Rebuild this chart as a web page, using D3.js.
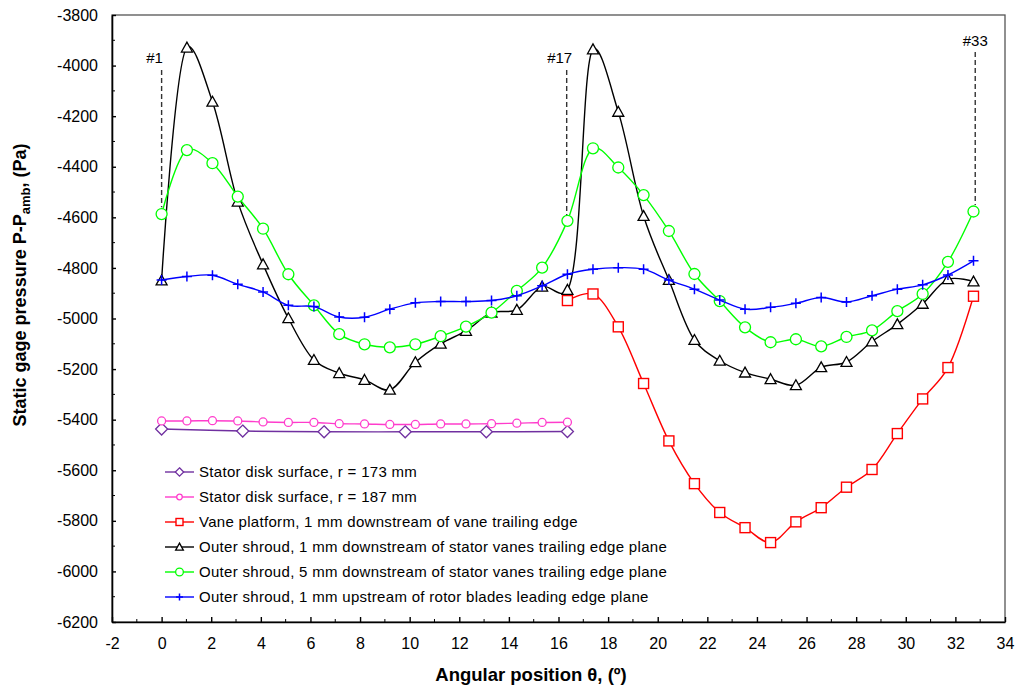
<!DOCTYPE html>
<html>
<head>
<meta charset="utf-8">
<script src="https://cdn.jsdelivr.net/npm/d3@7"></script>
<style>
	body { margin: 0; background: #fff; }
	svg text { font-family: "Liberation Sans", Arial, sans-serif; fill: #000; }
</style>
</head>
<body>
<div id="chart"></div>
<script>
	"use strict";

	// angular positions of the 33 taps (#1 .. #33)
	var theta = [0, 1.02, 2.05, 3.07, 4.09, 5.11, 6.14, 7.16, 8.18, 9.20, 10.23, 11.25, 12.27, 13.30, 14.32, 15.34, 16.36,
		17.39, 18.41, 19.43, 20.45, 21.48, 22.50, 23.52, 24.55, 25.57, 26.59, 27.61, 28.64, 29.66, 30.68, 31.70, 32.73];
	var thetaDisk173 = [0, 3.27, 6.55, 9.82, 13.09, 16.36];

	var disk173 = [-5437, -5445, -5448, -5448, -5448, -5447];
	var disk187 = [-5405, -5405, -5404, -5405, -5409, -5411, -5411, -5416, -5417, -5419, -5419, -5417, -5417, -5416, -5414, -5411, -5410];
	var vanePlatform = [-4929, -4903, -5033, -5257, -5484, -5653, -5767, -5827, -5886, -5804, -5748, -5667, -5597, -5455, -5318, -5194, -4912];
	var shroud1Down = [-4850, -3929, -4143, -4538, -4786, -4999, -5164, -5216, -5243, -5282, -5173, -5100, -5049, -4977, -4966, -4874, -4887,
		-3936, -4183, -4595, -4848, -5085, -5167, -5214, -5240, -5264, -5193, -5172, -5091, -5023, -4942, -4845, -4854];
	var shroud5Down = [-4587, -4334, -4386, -4518, -4645, -4825, -4948, -5062, -5102, -5114, -5102, -5070, -5032, -4977, -4891, -4799, -4614,
		-4327, -4403, -4512, -4654, -4824, -4931, -5035, -5094, -5082, -5110, -5073, -5047, -4971, -4903, -4776, -4577];
	var shroud1Up = [-4848, -4834, -4829, -4865, -4895, -4948, -4953, -4994, -4995, -4963, -4938, -4933, -4933, -4929, -4910, -4871, -4825,
		-4805, -4799, -4805, -4848, -4884, -4927, -4963, -4956, -4940, -4917, -4935, -4910, -4884, -4867, -4828, -4772];

	var seriesNames = [
		"Stator disk surface, r = 173 mm",
		"Stator disk surface, r = 187 mm",
		"Vane platform, 1 mm downstream of vane trailing edge",
		"Outer shroud, 1 mm downstream of stator vanes trailing edge plane",
		"Outer shroud, 5 mm downstream of stator vanes trailing edge plane",
		"Outer shroud, 1 mm upstream of rotor blades leading edge plane"
	];

	var xTicks = d3.range(-2, 35, 2);
	var yTicks = d3.range(-6200, -3799, 200);

	// probe annotations: label, angle, top and bottom of the dashed marker (Pa)
	var probeMarks = [
		{ label: "#1", x: 0, top: -4017, bottom: -4560, labelY: -3990 },
		{ label: "#17", x: 16.33, top: -4017, bottom: -4600, labelY: -3990 },
		{ label: "#33", x: 32.8, top: -3946, bottom: -4551, labelY: -3922 }
	];

	// build series table used by the drawing code
	var series = [
		{ name: seriesNames[0], xs: thetaDisk173, ys: disk173, color: "#7030a0", symbol: "diamond" },
		{ name: seriesNames[1], xs: theta.slice(0, 17), ys: disk187, color: "#ff3ccc", symbol: "smallcircle" },
		{ name: seriesNames[2], xs: theta.slice(16), ys: vanePlatform, color: "#ff0000", symbol: "square" },
		{ name: seriesNames[3], xs: theta, ys: shroud1Down, color: "#000000", symbol: "triangle" },
		{ name: seriesNames[4], xs: theta, ys: shroud5Down, color: "#00ff00", symbol: "circle" },
		{ name: seriesNames[5], xs: theta, ys: shroud1Up, color: "#0000ff", symbol: "plus" }
	];

	var width = 1018, height = 689;
	var plot = { left: 112, right: 1005, top: 15, bottom: 622 };

	var svg = d3.select("#chart").append("svg")
		.attr("width", width)
		.attr("height", height);

	var x = d3.scaleLinear().domain([-2, 34]).range([plot.left, plot.right]);
	var y = d3.scaleLinear().domain([-6200, -3800]).range([plot.bottom, plot.top]);

	// plot frame (top and right)
	svg.append("rect")
		.attr("x", plot.left)
		.attr("y", plot.top)
		.attr("width", plot.right - plot.left)
		.attr("height", plot.bottom - plot.top)
		.attr("fill", "none")
		.attr("stroke", "#555")
		.attr("stroke-width", 1.3);

	// ****************** Axes ***************************
	var plainNumber = function(d) { return String(d); };

	var xAxis = svg.append("g")
		.attr("transform", "translate(0," + plot.bottom + ")")
		.call(d3.axisBottom(x).tickValues(xTicks).tickFormat(plainNumber).tickSizeInner(-5).tickSizeOuter(0));
	xAxis.append("g").selectAll("line")
		.data(d3.range(-1, 34, 2))
		.enter().append("line")
		.attr("x1", function(d) { return x(d); })
		.attr("x2", function(d) { return x(d); })
		.attr("y1", 0)
		.attr("y2", -3)
		.attr("stroke", "#000");

	var yAxis = svg.append("g")
		.attr("transform", "translate(" + plot.left + ",0)")
		.call(d3.axisLeft(y).tickValues(yTicks).tickFormat(plainNumber).tickSizeInner(-4).tickSizeOuter(0));
	yAxis.append("g").selectAll("line")
		.data(d3.range(-6100, -3800, 200))
		.enter().append("line")
		.attr("y1", function(d) { return y(d); })
		.attr("y2", function(d) { return y(d); })
		.attr("x1", 0)
		.attr("x2", 3)
		.attr("stroke", "#000");

	[xAxis, yAxis].forEach(function(g) {
		g.select(".domain").attr("stroke", "#000").attr("stroke-width", 1.6);
		g.selectAll(".tick line").attr("stroke", "#000").attr("stroke-width", 1.4);
		g.selectAll(".tick text")
			.style("font-family", "'Liberation Sans', Arial, sans-serif")
			.style("font-size", "16px")
			.attr("fill", "#000");
	});
	xAxis.selectAll(".tick text").attr("dy", "0.35em").attr("y", 21);
	yAxis.selectAll(".tick text").attr("x", -14);

	// axis titles
	svg.append("text")
		.attr("x", 531)
		.attr("y", 681)
		.attr("text-anchor", "middle")
		.style("font-size", "18.5px")
		.style("font-weight", "bold")
		.text("Angular position \u03b8, (\u00ba)");

	var yTitle = svg.append("text")
		.attr("transform", "translate(26,285) rotate(-90)")
		.attr("text-anchor", "middle")
		.style("font-size", "18px")
		.style("font-weight", "bold");
	yTitle.append("tspan").text("Static gage pressure P-P");
	yTitle.append("tspan").attr("dy", 4).style("font-size", "13px").text("amb");
	yTitle.append("tspan").attr("dy", -4).text(", (Pa)");

	// ****************** Probe annotations ***************************
	var marks = svg.append("g");
	marks.selectAll("line")
		.data(probeMarks)
		.enter().append("line")
		.attr("x1", function(d) { return x(d.x); })
		.attr("x2", function(d) { return x(d.x); })
		.attr("y1", function(d) { return y(d.top); })
		.attr("y2", function(d) { return y(d.bottom); })
		.attr("stroke", "#333")
		.attr("stroke-width", 1.4)
		.attr("stroke-dasharray", "5,3");
	marks.selectAll("text")
		.data(probeMarks)
		.enter().append("text")
		.attr("x", function(d) { return x(d.x) - (d.label === "#33" ? 0 : 7); })
		.attr("y", function(d) { return y(d.labelY); })
		.attr("text-anchor", "middle")
		.style("font-size", "15px")
		.text(function(d) { return d.label; });

	// ****************** Symbols ***************************
	function drawSymbol(g, symbol, color, cx, cy, scale) {
		var s = scale || 1;
		if (symbol === "diamond") {
			var r = 6 * s;
			g.append("path")
				.attr("d", "M" + cx + "," + (cy - r) + "L" + (cx + r) + "," + cy + "L" + cx + "," + (cy + r) + "L" + (cx - r) + "," + cy + "Z")
				.attr("fill", "#fff").attr("stroke", color).attr("stroke-width", 1.3);
		} else if (symbol === "smallcircle") {
			g.append("circle").attr("cx", cx).attr("cy", cy).attr("r", 4 * s)
				.attr("fill", "#fff").attr("stroke", color).attr("stroke-width", 1.3);
		} else if (symbol === "circle") {
			g.append("circle").attr("cx", cx).attr("cy", cy).attr("r", 5.5 * s)
				.attr("fill", "#fff").attr("stroke", color).attr("stroke-width", 1.3);
		} else if (symbol === "square") {
			var h = 5 * s;
			g.append("rect").attr("x", cx - h).attr("y", cy - h).attr("width", 2 * h).attr("height", 2 * h)
				.attr("fill", "#fff").attr("stroke", color).attr("stroke-width", 1.4);
		} else if (symbol === "triangle") {
			var t = 5.5 * s;
			g.append("path")
				.attr("d", "M" + cx + "," + (cy - t) + "L" + (cx + t) + "," + (cy + t * 0.8) + "L" + (cx - t) + "," + (cy + t * 0.8) + "Z")
				.attr("fill", "#fff").attr("stroke", color).attr("stroke-width", 1.3);
		} else if (symbol === "plus") {
			var p = 5 * s;
			g.append("path")
				.attr("d", "M" + (cx - p) + "," + cy + "H" + (cx + p) + "M" + cx + "," + (cy - p) + "V" + (cy + p))
				.attr("stroke", color).attr("stroke-width", 1.5);
		}
	}

	// ****************** Series ***************************
	var line = d3.line()
		.x(function(d) { return x(d[0]); })
		.y(function(d) { return y(d[1]); })
		.curve(d3.curveCatmullRom.alpha(0.35));

	series.forEach(function(s) {
		var pts = s.xs.map(function(v, i) { return [v, s.ys[i]]; });
		var g = svg.append("g");
		g.append("path")
			.datum(pts)
			.attr("d", line)
			.attr("fill", "none")
			.attr("stroke", s.color)
			.attr("stroke-width", 1.4);
		pts.forEach(function(p) {
			drawSymbol(g, s.symbol, s.color, x(p[0]), y(p[1]));
		});
	});

	// ****************** Legend ***************************
	var legend = svg.append("g").attr("transform", "translate(165,472)");
	series.forEach(function(s, i) {
		var row = legend.append("g").attr("transform", "translate(0," + (i * 25) + ")");
		row.append("line")
			.attr("x1", 0).attr("x2", 29)
			.attr("stroke", s.color)
			.attr("stroke-width", 1.4);
		drawSymbol(row, s.symbol, s.color, 14.5, 0, 0.7);
		row.append("text")
			.attr("x", 34)
			.attr("dy", "0.35em")
			.style("font-size", "15px")
			.style("letter-spacing", "0.3px")
			.text(s.name);
	});
</script>
</body>
</html>
